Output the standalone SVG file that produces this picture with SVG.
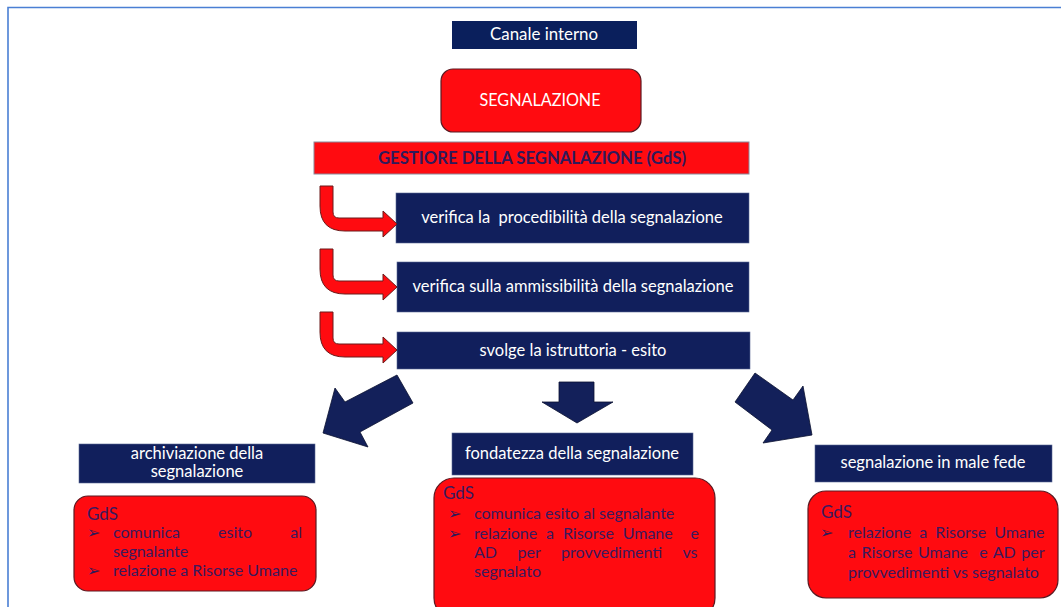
<svg xmlns="http://www.w3.org/2000/svg" width="1061" height="607" viewBox="0 0 1061 607">
<defs>
<style>
.navy{fill:#111f5c;stroke:#5a6a95;stroke-width:0.6}
.redbox{fill:#ff0b10;stroke:#5a1a22;stroke-width:1.2}
.lbl{font-family:Lato,"Open Sans",sans-serif;font-size:16.5px;fill:#ffffff;text-anchor:middle}
.body{font-family:Lato,"Open Sans",sans-serif;font-size:16px;fill:#3a1a5e}
.gds{font-family:Lato,"Open Sans",sans-serif;font-size:17px;fill:#3a1a5e}
.bul{font-family:"DejaVu Sans",sans-serif;font-size:16px;fill:#2a1a5a}
.rarrow{fill:#ff0b10;stroke:#6a1a1a;stroke-width:1}
.barrow{fill:#13205a;stroke:#0a1030;stroke-width:0.8}
</style>
<path id="bent" d="M320,-38 L333,-38 L333,-12 Q333,-6 339,-6 L383,-6 L383,-13 L397,0 L383,13 L383,7 L345,7 Q320,7 320,-18 Z"/>
</defs>
<rect width="1061" height="607" fill="#ffffff"/>
<g id="frame" fill="none" stroke="#4a7fd4" stroke-width="1.6">
<path d="M8,607 L8,7.5 L1061,7.5"/>
</g>

<g id="canale">
<rect x="452" y="21" width="185" height="28" fill="#0a1f5c"/>
<text x="544" y="40" class="lbl" font-size="15" textLength="108" lengthAdjust="spacingAndGlyphs">Canale interno</text>
</g>

<g id="segnalazione">
<rect x="441" y="69" width="200" height="63" rx="12" class="redbox"/>
<text x="540" y="106" class="lbl" font-size="15" textLength="121" lengthAdjust="spacingAndGlyphs">SEGNALAZIONE</text>
</g>

<g id="gestore">
<rect x="314" y="142" width="435" height="32" fill="#ff0b10" stroke="#8a8a9a" stroke-width="1"/>
<text x="532" y="164" class="lbl" style="fill:#301a5c;font-weight:bold" font-size="16" textLength="308" lengthAdjust="spacingAndGlyphs">GESTIORE DELLA SEGNALAZIONE (GdS)</text>
</g>

<g id="step1">
<rect x="396" y="193" width="353" height="50" class="navy"/>
<text x="572" y="223" class="lbl" xml:space="preserve">verifica la  procedibilità della segnalazione</text>
</g>
<g id="step2">
<rect x="397" y="262" width="352" height="50" class="navy"/>
<text x="573" y="292" class="lbl">verifica sulla ammissibilità della segnalazione</text>
</g>
<g id="step3">
<rect x="397" y="332" width="353" height="37" class="navy"/>
<text x="573" y="356" class="lbl">svolge la istruttoria - esito</text>
</g>

<g id="archiviazione">
<rect x="79" y="444" width="236" height="39" class="navy"/>
<text x="197" y="459" class="lbl" font-size="15.5">archiviazione della</text>
<text x="197" y="477" class="lbl" font-size="15.5">segnalazione</text>
</g>
<g id="archiviazione-gds">
<rect x="74" y="496" width="242" height="95" rx="14" class="redbox"/>
<text x="87" y="520" class="gds">GdS</text>
<text x="87" y="538" class="bul">➢</text>
<text x="113" y="538" class="body" word-spacing="34">comunica esito al</text>
<text x="113" y="557" class="body">segnalante</text>
<text x="87" y="576" class="bul">➢</text>
<text x="113" y="576" class="body">relazione a Risorse Umane</text>
</g>

<g id="fondatezza">
<rect x="452" y="433" width="241" height="42" class="navy"/>
<text x="572" y="459" class="lbl">fondatezza della segnalazione</text>
</g>
<g id="fondatezza-gds">
<rect x="434" y="478" width="281" height="140" rx="20" class="redbox"/>
<text x="443" y="499" class="gds">GdS</text>
<text x="448" y="519" class="bul">➢</text>
<text x="474" y="519" class="body">comunica esito al segnalante</text>
<text x="448" y="539" class="bul">➢</text>
<text x="474" y="539" class="body" word-spacing="4.8" xml:space="preserve">relazione a Risorse Umane  e</text>
<text x="474" y="558" class="body" word-spacing="16.5">AD per provvedimenti vs</text>
<text x="474" y="577" class="body">segnalato</text>
</g>

<g id="malafede">
<rect x="815" y="445" width="237" height="37" class="navy"/>
<text x="933" y="468" class="lbl">segnalazione in male fede</text>
</g>
<g id="malafede-gds">
<rect x="808" y="491" width="250" height="107" rx="18" class="redbox"/>
<text x="821" y="518" class="gds">GdS</text>
<text x="820" y="538" class="bul">➢</text>
<text x="848" y="538" class="body" word-spacing="4">relazione a Risorse Umane</text>
<text x="848" y="558" class="body" word-spacing="1.5" xml:space="preserve">a Risorse Umane  e AD per</text>
<text x="848" y="578" class="body">provvedimenti vs segnalato</text>
</g>

<g id="connectors">
<use href="#bent" class="rarrow" transform="translate(0,224)"/>
<use href="#bent" class="rarrow" transform="translate(0,287)"/>
<use href="#bent" class="rarrow" transform="translate(0,350)"/>
<polygon class="barrow" points="397,375 413,403 360,432 368,447 323,433 335,388 345,402"/>
<polygon class="barrow" points="559,382 594,382 594,402 613,402 577,423 542,402 559,402"/>
<polygon class="barrow" points="755,373 735,402 772,430 763,443 812,435 803,386 793,400"/>
</g>
</svg>
